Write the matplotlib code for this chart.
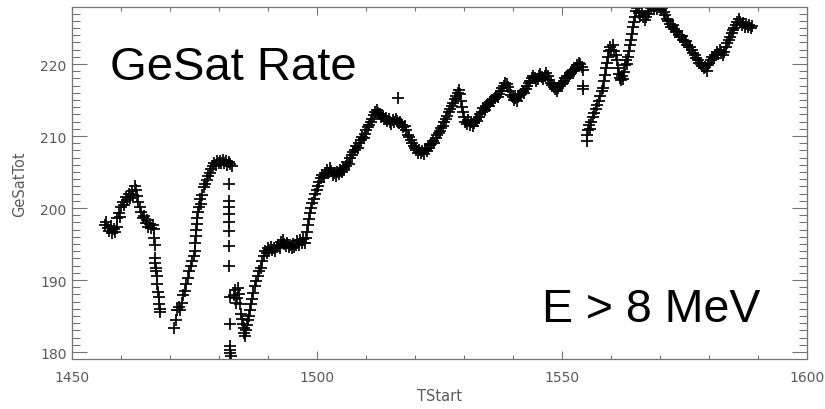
import matplotlib
matplotlib.use("Agg")
import matplotlib.pyplot as plt
from matplotlib.ticker import MultipleLocator
import numpy as np

# ---- data (TStart, GeSatTot) ----
t_a = [1456.7, 1457.0, 1457.3, 1457.6, 1457.9, 1458.2, 1458.5, 1458.8, 1459.1, 1459.2,
       1459.5, 1459.8, 1460.1, 1460.4, 1460.7, 1461.0, 1461.3, 1461.6, 1461.9, 1462.2,
       1462.5, 1462.8, 1463.0, 1463.3, 1463.5, 1463.8, 1464.1, 1464.4, 1464.7, 1465.0,
       1465.3, 1465.6, 1465.9, 1466.2, 1466.5, 1466.8, 1466.8, 1466.9, 1467.0, 1467.0,
       1467.1, 1467.2, 1467.3, 1467.4, 1467.5, 1467.7, 1467.8, 1467.9, 1468.0]
r_a = [197.6, 198.0, 197.2, 196.8, 197.5, 196.5, 197.1, 196.7, 197.4, 198.6,
       199.3, 198.8, 200.2, 200.9, 200.4, 201.5, 201.1, 201.9, 201.4, 202.3,
       201.8, 203.1, 202.5, 201.6, 200.8, 200.1, 199.5, 198.6, 198.9, 197.9,
       198.3, 197.4, 197.8, 197.2, 197.6, 197.1, 195.8, 194.9, 193.0, 192.3,
       191.6, 191.2, 190.6, 189.4, 188.4, 187.6, 186.6, 186.0, 185.6]

t_b = [1470.9, 1471.2, 1471.5, 1471.8, 1472.1, 1472.4, 1472.7, 1473.0, 1473.3, 1473.6,
       1473.9, 1474.2, 1474.5, 1474.8, 1475.0, 1475.2, 1475.3, 1475.4, 1475.5, 1475.6,
       1475.8, 1476.0, 1476.2, 1476.4, 1476.6, 1476.9, 1477.2, 1477.5, 1477.8, 1478.1,
       1478.4, 1478.7, 1479.0, 1479.3, 1479.6, 1479.9, 1480.2, 1480.5, 1480.8, 1481.1,
       1481.4, 1481.7, 1482.0, 1482.3, 1482.6,
       1482.0, 1482.0, 1482.1, 1482.0, 1482.1, 1482.1, 1482.1, 1482.1, 1482.2, 1482.2,
       1482.3, 1482.3, 1482.3, 1482.4]
r_b = [183.4, 184.5, 185.9, 186.3, 185.8, 186.8, 187.9, 188.5, 189.5, 190.3,
       191.2, 191.9, 192.6, 193.3, 194.0, 195.2, 196.1, 197.0, 197.8, 198.6,
       199.4, 200.2, 201.2, 200.6, 201.8, 202.9, 203.4, 203.9, 204.5, 204.9,
       205.4, 205.8, 206.2, 206.0, 206.5, 206.2, 206.6, 206.3, 206.7, 206.2,
       206.5, 206.0, 206.4, 206.1, 205.9,
       203.3, 201.0, 200.1, 199.2, 198.1, 196.8, 194.7, 191.9, 187.6, 183.9,
       180.8, 180.3, 179.8, 179.4]

t_c = [1483.0, 1483.2, 1483.4, 1483.6, 1483.8, 1484.0, 1484.2, 1484.4, 1484.6, 1484.8,
       1485.0, 1485.2, 1485.4, 1485.6, 1485.8, 1486.0, 1486.2, 1486.4, 1486.6, 1486.8,
       1487.0, 1487.3, 1487.6, 1487.9, 1488.2, 1488.5, 1488.8, 1489.1, 1489.4, 1489.7,
       1490.0, 1490.3, 1490.6, 1490.9, 1491.2, 1491.5, 1491.8, 1492.1, 1492.4, 1492.7,
       1493.0, 1493.3, 1493.6, 1493.9, 1494.2, 1494.5, 1494.8, 1495.1, 1495.4, 1495.7,
       1496.0, 1496.3, 1496.6, 1496.9, 1497.2, 1497.5, 1497.8, 1498.0, 1498.2, 1498.4,
       1498.6, 1498.8, 1499.0, 1499.3, 1499.6, 1499.9, 1500.2, 1500.5, 1500.8, 1501.1,
       1501.4, 1501.7, 1502.0, 1502.3, 1502.6, 1502.9, 1503.2, 1503.5, 1503.8, 1504.1,
       1504.4, 1504.7, 1505.0, 1505.3, 1505.6, 1505.9, 1506.2, 1506.5, 1506.8, 1507.1,
       1507.4, 1507.7, 1508.0, 1508.3, 1508.6, 1508.9, 1509.2, 1509.5, 1509.8, 1510.1,
       1510.4, 1510.7, 1511.0, 1511.3, 1511.6, 1511.9, 1512.2, 1512.5, 1512.8, 1513.1,
       1513.4, 1513.7, 1514.0, 1514.3, 1514.6, 1514.9, 1515.2, 1515.5, 1515.8, 1516.1,
       1516.4, 1516.5, 1516.7, 1517.0, 1517.3, 1517.6, 1517.9, 1518.2, 1518.5, 1518.8,
       1519.1, 1519.4, 1519.7, 1520.0, 1520.3, 1520.6, 1520.9, 1521.2, 1521.5, 1521.8,
       1522.1, 1522.4, 1522.7, 1523.0, 1523.3, 1523.6, 1523.9, 1524.2, 1524.5, 1524.8,
       1525.1, 1525.4, 1525.7, 1526.0, 1526.3, 1526.6, 1526.9, 1527.2, 1527.5, 1527.8,
       1528.1, 1528.4, 1528.7, 1529.0, 1529.2, 1529.4, 1529.6, 1529.8, 1530.0, 1530.3,
       1530.6, 1530.9, 1531.2, 1531.5, 1531.8, 1532.1, 1532.4, 1532.7, 1533.0, 1533.3,
       1533.6, 1533.9, 1534.2, 1534.5, 1534.8, 1535.1, 1535.4, 1535.7, 1536.0, 1536.3,
       1536.6, 1536.9, 1537.2, 1537.5, 1537.8, 1538.1, 1538.4, 1538.7, 1539.0, 1539.3,
       1539.6, 1539.9, 1540.2, 1540.5, 1540.8, 1541.1, 1541.4, 1541.7, 1542.0, 1542.3,
       1542.6, 1542.9, 1543.2, 1543.5, 1543.8, 1544.1, 1544.4, 1544.7, 1545.0, 1545.3,
       1545.6, 1545.9, 1546.2, 1546.5, 1546.8, 1547.1, 1547.4, 1547.7, 1548.0, 1548.3,
       1548.6, 1548.9, 1549.2, 1549.5, 1549.8, 1550.1, 1550.4, 1550.7, 1551.0, 1551.3,
       1551.6, 1551.9, 1552.2, 1552.5, 1552.8, 1553.1, 1553.4, 1553.7, 1554.0, 1554.2,
       1554.3, 1554.3]
r_c = [187.9, 188.6, 186.8, 187.5, 188.9, 188.1, 186.6, 185.3, 184.6, 183.9,
       183.3, 182.6, 182.2, 183.1, 183.8, 184.4, 185.0, 185.8, 186.7, 187.4,
       188.2, 189.1, 189.9, 190.6, 191.2, 191.7, 192.6, 193.4, 194.0, 193.7,
       194.4, 194.1, 194.6, 194.2, 194.5, 194.0, 194.6, 194.9, 194.5, 195.3,
       195.6, 195.0, 194.7, 195.2, 194.6, 194.9, 194.4, 195.0, 194.6, 194.9,
       195.4, 194.8, 195.6, 195.1, 195.7, 195.2, 195.8, 196.7, 197.6, 198.5,
       199.3, 200.0, 200.7, 201.2, 201.9, 202.5, 203.1, 203.6, 204.2, 204.6,
       204.3, 204.9, 205.3, 204.8, 205.6, 205.1, 204.6, 204.9, 204.4, 205.0,
       204.7, 205.3, 205.0, 205.6, 205.3, 205.9, 206.4, 206.1, 206.9, 207.3,
       207.8, 208.1, 208.6, 208.4, 209.1, 209.4, 209.9, 209.7, 210.3, 210.8,
       211.2, 211.6, 211.9, 212.4, 212.9, 213.3, 213.6, 213.2, 213.0, 212.6,
       212.8, 212.3, 212.5, 212.1, 212.4, 212.0, 211.7, 212.2, 211.9, 212.4,
       212.1, 215.3, 211.8, 212.0, 211.6, 211.2, 211.4, 210.8, 210.2, 209.8,
       209.4, 209.0, 208.6, 208.3, 208.0, 207.7, 208.1, 207.6, 207.9, 207.5,
       208.2, 207.9, 208.4, 208.7, 208.9, 209.3, 209.1, 209.7, 210.1, 210.4,
       210.7, 211.1, 211.4, 211.9, 212.4, 212.8, 213.3, 213.7, 214.2, 214.6,
       215.1, 215.6, 216.0, 216.4, 215.8, 214.9, 214.1, 213.4, 212.6, 212.0,
       211.7, 212.2, 211.5, 211.9, 211.4, 211.8, 212.3, 212.1, 212.7, 213.1,
       213.4, 213.9, 213.6, 214.2, 214.5, 214.2, 214.7, 215.0, 214.8, 215.3,
       215.6, 215.4, 215.9, 216.3, 216.7, 217.0, 217.4, 217.2, 216.8, 216.2,
       215.7, 215.4, 215.0, 215.3, 214.9, 215.4, 215.7, 215.9, 216.3, 216.0,
       216.6, 216.9, 217.3, 217.7, 218.1, 218.4, 218.0, 217.6, 217.9, 218.3,
       218.6, 218.2, 217.9, 218.4, 218.7, 218.3, 217.8, 217.4, 217.1, 216.8,
       216.6, 216.3, 216.7, 217.0, 217.4, 217.2, 217.7, 218.0, 218.3, 218.1,
       218.6, 218.9, 219.2, 219.0, 219.5, 219.8, 220.2, 220.0, 219.6, 219.2,
       217.0, 216.6]

t_d = [1555.0, 1555.2, 1555.3, 1555.5, 1555.8, 1556.0, 1556.3, 1556.6, 1556.9, 1557.2,
       1557.5, 1557.8, 1558.1, 1558.4, 1558.6, 1558.8, 1559.0, 1559.2, 1559.4, 1559.6,
       1559.8, 1560.1, 1560.4, 1560.7, 1561.0, 1561.3, 1561.5, 1561.7, 1561.9, 1562.1,
       1562.3, 1562.5, 1562.7, 1562.9, 1563.1, 1563.3, 1563.5, 1563.7, 1563.9, 1564.1,
       1564.3, 1564.5, 1564.7, 1564.9, 1565.1, 1565.4, 1565.7, 1566.0, 1566.3, 1566.6,
       1566.9, 1567.2, 1567.5, 1567.8, 1568.1, 1568.4, 1568.7, 1569.0, 1569.3, 1569.6,
       1569.9, 1570.2, 1570.5, 1570.8, 1571.1, 1571.4, 1571.7, 1572.0, 1572.3, 1572.6,
       1572.9, 1573.2, 1573.5, 1573.8, 1574.1, 1574.4, 1574.7, 1575.0, 1575.3, 1575.6,
       1575.9, 1576.2, 1576.5, 1576.8, 1577.1, 1577.4, 1577.7, 1578.0, 1578.3, 1578.6,
       1578.9, 1579.2, 1579.5, 1579.8, 1580.1, 1580.4, 1580.7, 1581.0, 1581.3, 1581.6,
       1581.9, 1582.2, 1582.5, 1582.8, 1583.1, 1583.4, 1583.7, 1584.0, 1584.3, 1584.6,
       1584.9, 1585.2, 1585.5, 1585.8, 1586.1, 1586.4, 1586.7, 1587.0, 1587.3, 1587.6,
       1587.9, 1588.2, 1588.5, 1588.8]
r_d = [210.1, 209.3, 210.8, 211.5, 211.0, 212.0, 212.6, 213.2, 213.8, 214.3,
       214.9, 215.6, 216.2, 216.7, 217.6, 218.5, 219.4, 220.1, 221.0, 221.8,
       222.4, 222.0, 222.6, 221.8, 221.2, 220.6, 219.5, 218.6, 218.0, 217.8,
       218.3, 217.9, 218.9, 219.8, 220.5, 220.0, 221.0, 221.8, 222.6, 223.4,
       224.2, 225.1, 225.9, 226.6, 227.3, 227.8, 227.1, 226.7, 227.2, 226.5,
       226.1, 226.6, 226.9, 227.4, 227.8, 228.2, 227.6, 228.0, 227.7, 228.3,
       227.9, 227.5, 227.8, 227.2, 226.8, 226.3, 226.0, 225.6, 225.2, 225.4,
       224.9, 224.5, 224.6, 224.1, 223.8, 223.9, 223.4, 223.0, 223.2, 222.7,
       222.3, 222.4, 221.9, 221.5, 221.2, 220.8, 220.6, 220.2, 220.0, 219.7,
       219.4, 219.6, 219.1, 219.8, 220.2, 220.6, 221.0, 220.8, 221.3, 221.7,
       221.4, 221.9, 221.6, 221.2, 221.7, 222.3, 222.9, 223.4, 223.8, 224.3,
       224.7, 225.0, 225.4, 225.9, 226.2, 225.8, 225.4, 225.7, 225.2, 225.5,
       225.1, 225.4, 225.0, 225.3]

x_ticks = [1450, 1500, 1550, 1600]
y_ticks = [180, 190, 200, 210, 220]

tstart = np.array(t_a + t_b + t_c + t_d)
gesat = np.array(r_a + r_b + r_c + r_d)

axis_gray = "#747474"
text_gray = "#5a5a5a"

fig = plt.figure(figsize=(8.25, 4.10), dpi=100)
ax = fig.add_axes([72 / 825, 1 - 360 / 410, (807 - 72) / 825, (360 - 8) / 410])

ax.plot(tstart, gesat, linestyle="none", marker="+", color="black",
        markersize=8.5, markeredgewidth=1.25)

ax.set_xlim(1450, 1600)
ax.set_ylim(179.03, 227.92)
ax.set_xticks(x_ticks)
ax.set_yticks(y_ticks)
ax.xaxis.set_minor_locator(MultipleLocator(10))
ax.yaxis.set_minor_locator(MultipleLocator(1))

for s in ax.spines.values():
    s.set_color(axis_gray)
    s.set_linewidth(0.9)

ax.tick_params(axis="both", which="both", direction="in", top=True, right=True,
               color=axis_gray, labelcolor=text_gray, labelsize=10, width=0.8)
ax.tick_params(axis="x", which="major", length=6, pad=8)
ax.tick_params(axis="x", which="minor", length=3)
ax.tick_params(axis="y", which="major", length=11, pad=4)
ax.tick_params(axis="y", which="minor", length=6)

ax.set_xlabel("TStart", color=text_gray, fontsize=10.5, labelpad=3)
ax.set_ylabel("GeSatTot", color=text_gray, fontsize=10.5, labelpad=9)

ax.text(110 / 825, 1 - 80 / 410, "GeSat Rate", transform=fig.transFigure,
        fontsize=34, family="Liberation Sans", color="black", va="baseline", ha="left")
ax.text(542 / 825, 1 - 322 / 410, "E > 8 MeV", transform=fig.transFigure,
        fontsize=33.5, family="Liberation Sans", color="black", va="baseline", ha="left")

fig.savefig("out.png", dpi=100)
